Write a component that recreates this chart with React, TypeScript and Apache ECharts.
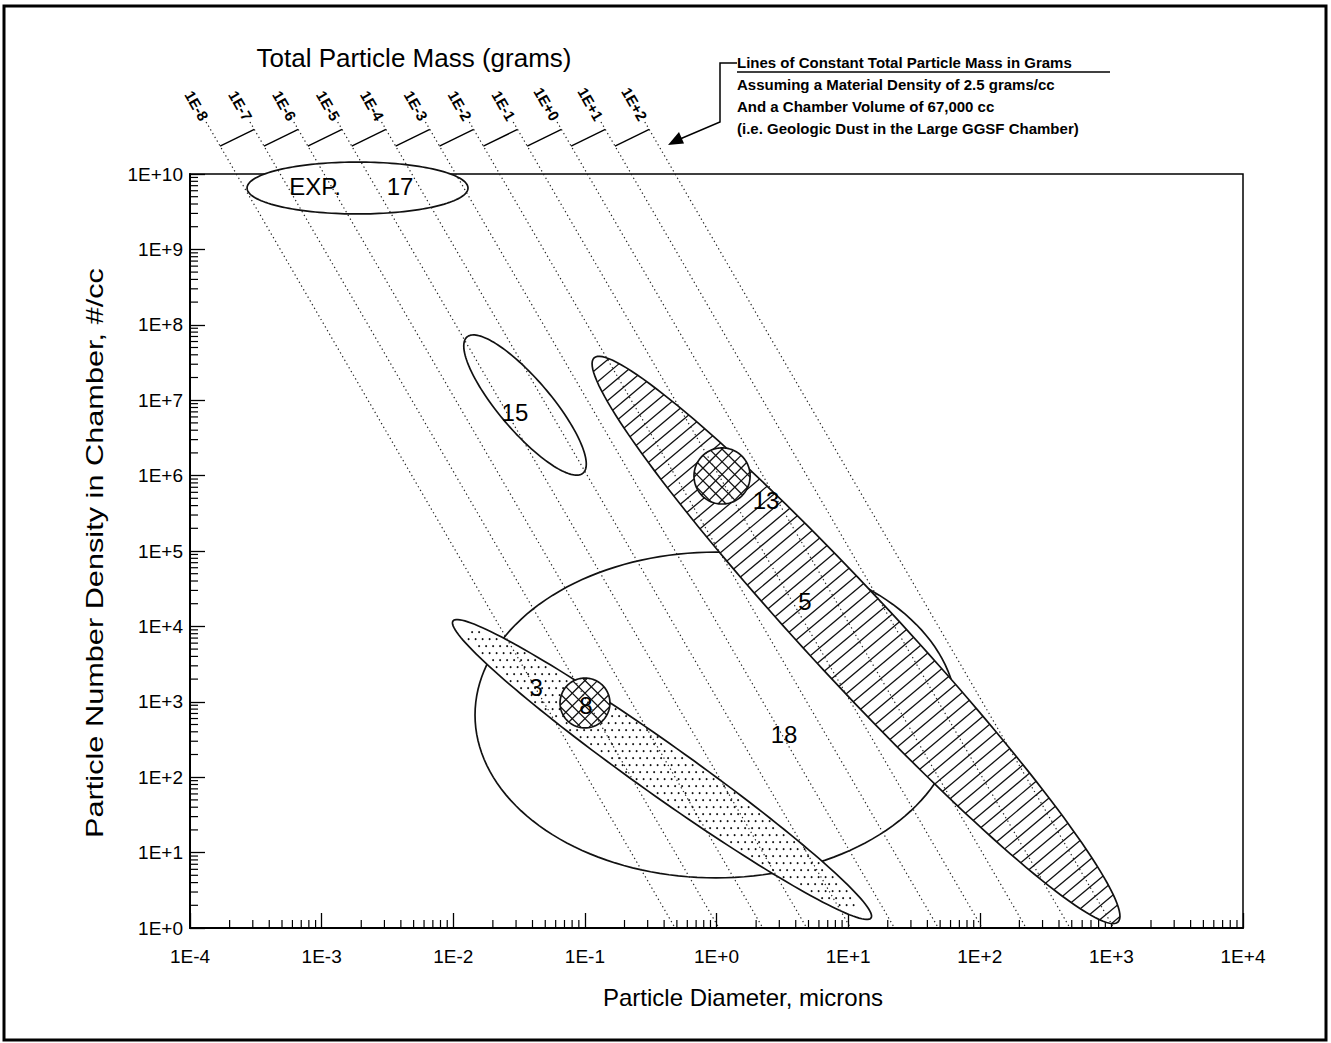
import React, { useEffect, useRef } from "react";
import * as echarts from "echarts";

// ---- axis ticks (exponents of ten) ----
const xTickExponents = [-4, -3, -2, -1, 0, 1, 2, 3, 4];
const yTickExponents = [0, 1, 2, 3, 4, 5, 6, 7, 8, 9, 10];
const minorMultipliers = [2, 3, 4, 5, 6, 7, 8, 9];

// ---- lines of constant total particle mass ----
const massValues = [1e-8, 1e-7, 1e-6, 1e-5, 1e-4, 1e-3, 1e-2, 1e-1, 1e0, 1e1, 1e2];
const massLabels = ["1E-8", "1E-7", "1E-6", "1E-5", "1E-4", "1E-3", "1E-2", "1E-1", "1E+0", "1E+1", "1E+2"];
const materialDensity = 2.5; // grams/cc
const chamberVolume = 67000; // cc
const massLineTopN = 4.9e10; // where the dotted lines start (above the frame)
const massStepLowN = 2.35e10; // small connecting segments
const massStepHighN = 3.9e10;

// ---- experiment regions (ellipses) ----
const regionNames = ["18", "15", "EXP. 17", "3", "5", "13", "8"];
const regionCenterD = [0.991, 0.0351, 0.001874, 0.3855, 11.48, 1.102, 0.1002];
const regionCenterN = [668, 8.63e6, 6.52e9, 126.5, 6607, 9.89e5, 964];
const regionAxisEndD = [67.1, 0.0968, 0.01294, 14.93, 1122, 1.8, 0.155];
const regionAxisEndN = [668, 1.08e6, 6.52e9, 1.358, 1.2, 9.89e5, 964];
const regionAspect = [0.676, 0.29, 0.235, 0.1, 0.115, 1, 1];
const regionFill = ["plain", "plain", "plain", "stipple", "hatch", "cross", "cross"];

// ---- region labels ----
const labelTexts = ["EXP.", "17", "15", "13", "5", "3", "8", "18"];
const labelD = [8.91e-4, 3.94e-3, 0.0294, 2.38, 4.7, 0.0426, 0.102, 3.26];
const labelN = [6.93e9, 6.93e9, 6.97e6, 4.74e5, 2.17e4, 1570, 906, 363];

const FONT = '"Liberation Sans", Arial, Helvetica, sans-serif';

export default function App() {
  const ref = useRef<HTMLDivElement>(null);

  useEffect(() => {
    if (!ref.current) return;
    const chart = echarts.init(ref.current, null, { renderer: "svg" });
    const L = Math.log10;
    const K = -L(materialDensity * chamberVolume * (Math.PI / 6) * 1e-12);
    const lineX = (M: number, logN: number) => (L(M) + K - logN) / 3;
    const fmt = (v: number) => `1E${v < 0 ? "-" : "+"}${Math.abs(Math.round(v))}`;
    const INK = "#111";

    const minorData: number[][] = [];
    xTickExponents.slice(0, -1).forEach((e) =>
      minorMultipliers.forEach((k) => minorData.push([e + L(k), 0, 0]))
    );
    yTickExponents.slice(0, -1).forEach((e) =>
      minorMultipliers.forEach((k) => minorData.push([-4, e + L(k), 1]))
    );

    const regionRender = (params: any, api: any) => {
      const i = params.dataIndex;
      const c = api.coord([L(regionCenterD[i]), L(regionCenterN[i])]);
      const e = api.coord([L(regionAxisEndD[i]), L(regionAxisEndN[i])]);
      let ux = e[0] - c[0];
      let uy = e[1] - c[1];
      const a = Math.hypot(ux, uy);
      ux /= a;
      uy /= a;
      const vx = -uy;
      const vy = ux;
      const b = a * regionAspect[i];
      const pts: number[][] = [];
      for (let k = 0; k < 160; k++) {
        const t = (2 * Math.PI * k) / 160;
        pts.push([
          c[0] + ux * a * Math.cos(t) + vx * b * Math.sin(t),
          c[1] + uy * a * Math.cos(t) + vy * b * Math.sin(t),
        ]);
      }
      const children: any[] = [
        { type: "polygon", shape: { points: pts }, style: { fill: "#fff", stroke: null } },
      ];
      const hatch = (wx: number, wy: number, spacing: number, lw: number) => {
        const nx = -wy;
        const ny = wx;
        const dx = wx * ux + wy * uy;
        const dy = wx * vx + wy * vy;
        for (let s = -a; s <= a; s += spacing) {
          const qx = nx * s;
          const qy = ny * s;
          const lx = qx * ux + qy * uy;
          const ly = qx * vx + qy * vy;
          const A = (dx * dx) / (a * a) + (dy * dy) / (b * b);
          const B = 2 * ((lx * dx) / (a * a) + (ly * dy) / (b * b));
          const C = (lx * lx) / (a * a) + (ly * ly) / (b * b) - 1;
          const disc = B * B - 4 * A * C;
          if (disc <= 0) continue;
          const t1 = (-B - Math.sqrt(disc)) / (2 * A);
          const t2 = (-B + Math.sqrt(disc)) / (2 * A);
          children.push({
            type: "line",
            shape: {
              x1: c[0] + qx + wx * t1,
              y1: c[1] + qy + wy * t1,
              x2: c[0] + qx + wx * t2,
              y2: c[1] + qy + wy * t2,
            },
            style: { stroke: INK, lineWidth: lw },
          });
        }
      };
      const f = regionFill[i];
      if (f === "hatch") {
        const ang = (40 * Math.PI) / 180;
        hatch(Math.cos(ang), -Math.sin(ang), 10.5, 1.3);
      } else if (f === "cross") {
        hatch(Math.SQRT1_2, -Math.SQRT1_2, 9, 1.3);
        hatch(Math.SQRT1_2, Math.SQRT1_2, 9, 1.3);
      } else if (f === "stipple") {
        const step = 7;
        let row = 0;
        for (let y = c[1] - a; y <= c[1] + a; y += step, row++) {
          for (let x = c[0] - a + (row % 2) * (step / 2); x <= c[0] + a; x += step) {
            const px = x - c[0];
            const py = y - c[1];
            const lx = px * ux + py * uy;
            const ly = px * vx + py * vy;
            if ((lx * lx) / (a * a) + (ly * ly) / (b * b) < 0.88) {
              children.push({
                type: "circle",
                shape: { cx: x, cy: y, r: 1.05 },
                style: { fill: "#111" },
              });
            }
          }
        }
      }
      children.push({
        type: "polygon",
        shape: { points: pts },
        style: { fill: null, stroke: INK, lineWidth: 1.7 },
      });
      return { type: "group", children };
    };

    const massRender = (params: any, api: any) => {
      const i = params.dataIndex;
      const M = massValues[i];
      const topLog = L(massLineTopN);
      const top = api.coord([lineX(M, topLog), topLog]);
      const bot = api.coord([lineX(M, 0), 0]);
      const ang = Math.atan2(bot[1] - top[1], bot[0] - top[0]);
      const children: any[] = [
        {
          type: "line",
          shape: { x1: top[0], y1: top[1], x2: bot[0], y2: bot[1] },
          style: { stroke: "#222", lineWidth: 1.2, lineDash: [1.3, 3] },
        },
        {
          type: "text",
          x: top[0] - 3 * Math.cos(ang),
          y: top[1] - 3 * Math.sin(ang),
          rotation: -ang,
          style: {
            text: massLabels[i],
            fontSize: 15,
            fontWeight: "bold",
            fontFamily: FONT,
            fill: "#000",
            align: "right",
            verticalAlign: "middle",
          },
        },
      ];
      if (i < massValues.length - 1) {
        const lo = L(massStepLowN);
        const hi = L(massStepHighN);
        const p1 = api.coord([lineX(M, lo), lo]);
        const p2 = api.coord([lineX(massValues[i + 1], hi), hi]);
        children.push({
          type: "line",
          shape: { x1: p1[0], y1: p1[1], x2: p2[0], y2: p2[1] },
          style: { stroke: "#000", lineWidth: 1.4 },
        });
      }
      return { type: "group", children };
    };

    const option: any = {
      animation: false,
      backgroundColor: "#fff",
      grid: {
        left: 190,
        top: 174,
        width: 1053,
        height: 754,
        show: true,
        borderColor: "#000",
        borderWidth: 1.5,
        backgroundColor: "transparent",
      },
      xAxis: {
        type: "value",
        min: -4,
        max: 4,
        interval: 1,
        axisLine: { onZero: false, lineStyle: { color: "#000", width: 2 } },
        axisTick: { inside: true, length: 15, lineStyle: { color: "#000", width: 1.3 } },
        axisLabel: { formatter: fmt, margin: 19, color: "#000", fontSize: 19, fontFamily: FONT },
        splitLine: { show: false },
      },
      yAxis: {
        type: "value",
        min: 0,
        max: 10,
        interval: 1,
        axisLine: { onZero: false, lineStyle: { color: "#000", width: 2 } },
        axisTick: { inside: true, length: 15, lineStyle: { color: "#000", width: 1.3 } },
        axisLabel: { formatter: fmt, margin: 7, color: "#000", fontSize: 19, fontFamily: FONT },
        splitLine: { show: false },
      },
      graphic: [
        {
          type: "rect",
          shape: { x: 4, y: 6, width: 1322, height: 1034 },
          style: { fill: null, stroke: "#000", lineWidth: 3 },
          silent: true,
        },
        {
          type: "text",
          x: 414,
          y: 58,
          style: {
            text: "Total Particle Mass (grams)",
            fontSize: 26,
            fontFamily: FONT,
            fill: "#000",
            align: "center",
            verticalAlign: "middle",
          },
        },
        ...[
          "Lines of Constant Total Particle Mass in Grams",
          "Assuming a Material Density of 2.5 grams/cc",
          "And a Chamber Volume of 67,000 cc",
          "(i.e. Geologic Dust in the Large GGSF Chamber)",
        ].map((t, k) => ({
          type: "text",
          x: 737,
          y: 62 + k * 22,
          style: {
            text: t,
            fontSize: 15,
            fontWeight: "bold",
            fontFamily: FONT,
            fill: "#000",
            align: "left",
            verticalAlign: "middle",
          },
        })),
        {
          type: "line",
          shape: { x1: 737, y1: 72, x2: 1110, y2: 72 },
          style: { stroke: "#000", lineWidth: 1.5 },
        },
        {
          type: "polyline",
          shape: { points: [[737, 63], [720, 63], [720, 122], [680, 139]] },
          style: { stroke: "#000", lineWidth: 1.5, fill: null },
        },
        {
          type: "polygon",
          shape: { points: [[668, 145], [684, 143.5], [679, 132]] },
          style: { fill: "#000" },
        },
        {
          type: "text",
          x: 743,
          y: 997,
          style: {
            text: "Particle Diameter, microns",
            fontSize: 24,
            fontFamily: FONT,
            fill: "#000",
            align: "center",
            verticalAlign: "middle",
          },
        },
        {
          type: "text",
          x: 95,
          y: 553,
          rotation: Math.PI / 2,
          scaleX: 1.28,
          style: {
            text: "Particle Number Density in Chamber, #/cc",
            fontSize: 24,
            fontFamily: FONT,
            fill: "#000",
            align: "center",
            verticalAlign: "middle",
          },
        },
      ],
      series: [
        {
          type: "custom",
          name: "minor ticks",
          silent: true,
          z: 3,
          renderItem: (params: any, api: any) => {
            const p = api.coord([api.value(0), api.value(1)]);
            const isY = api.value(2) === 1;
            return {
              type: "line",
              shape: isY
                ? { x1: p[0], y1: p[1], x2: p[0] + 8, y2: p[1] }
                : { x1: p[0], y1: p[1], x2: p[0], y2: p[1] - 8 },
              style: { stroke: "#000", lineWidth: 1.2 },
            };
          },
          data: minorData,
        },
        {
          type: "custom",
          name: "regions",
          silent: true,
          clip: false,
          z: 4,
          renderItem: regionRender,
          data: regionNames.map((_, i) => [L(regionCenterD[i]), L(regionCenterN[i])]),
        },
        {
          type: "custom",
          name: "mass lines",
          silent: true,
          clip: false,
          z: 5,
          renderItem: massRender,
          data: massValues.map((M) => [lineX(M, 0), 0]),
        },
        {
          type: "custom",
          name: "region labels",
          silent: true,
          clip: false,
          z: 6,
          renderItem: (params: any, api: any) => {
            const i = params.dataIndex;
            const p = api.coord([L(labelD[i]), L(labelN[i])]);
            return {
              type: "text",
              x: p[0],
              y: p[1],
              style: {
                text: labelTexts[i],
                fontSize: 24,
                fontFamily: FONT,
                fill: "#000",
                align: "center",
                verticalAlign: "middle",
              },
            };
          },
          data: labelTexts.map((_, i) => [L(labelD[i]), L(labelN[i])]),
        },
      ],
    };

    chart.setOption(option);
    return () => chart.dispose();
  }, []);

  return (
    <div
      ref={ref}
      style={{ position: "fixed", left: 0, top: 0, width: 1331, height: 1043, background: "#fff" }}
    />
  );
}
